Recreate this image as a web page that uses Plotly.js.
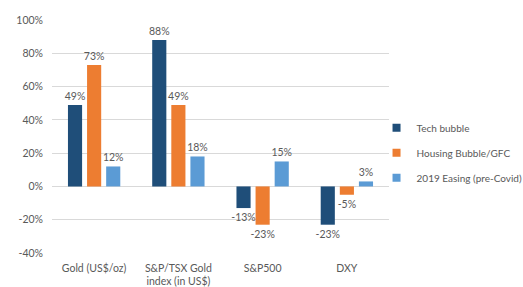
<!DOCTYPE html>
<html><head><meta charset="utf-8">
<script src="https://cdn.plot.ly/plotly-3.0.1.min.js"></script>
<style>html,body{margin:0;padding:0;background:#fff;}#chart{width:523px;height:287px;}</style>
</head><body><div id="chart"></div>
<script>
const categories = ["Gold (US$/oz)", "S&P/TSX Gold<br>index (in US$)", "S&P500", "DXY"];
const techBubble = [49, 88, -13, -23];
const housingBubble = [73, 49, -23, -5];
const easing2019 = [12, 18, 15, 3];
const seriesNames = ["Tech bubble", "Housing Bubble/GFC", "2019 Easing (pre-Covid)"];
const colors = ["#1F4E79", "#ED7D31", "#5B9BD5"];
const tickVals = [-40, -20, 0, 20, 40, 60, 80, 100];
const tickText = ["-40%", "-20%", "0%", "20%", "40%", "60%", "80%", "100%"];

const font = {family: "Lato, 'Open Sans', sans-serif", size: 10.5, color: "#595959"};
const legendFont = {family: "Lato, 'Open Sans', sans-serif", size: 10, color: "#595959"};
const series = [techBubble, housingBubble, easing2019];
const data = series.map((vals, i) => ({
  type: "bar", x: categories, y: vals, name: seriesNames[i],
  marker: {color: colors[i]}, showlegend: false,
  text: vals.map(v => v + "%"), textposition: "outside", cliponaxis: false,
  constraintext: "none", textangle: 0,
  textfont: font, hoverinfo: "none"
}));
// legend-only entries with small square symbols
series.forEach((vals, i) => data.push({
  type: "scatter", mode: "markers", x: [categories[0]], y: [null], name: seriesNames[i],
  marker: {color: colors[i], symbol: "square", size: 8}, legendgroup: "g" + i,
  hoverinfo: "none"
}));
const layout = {
  width: 523, height: 287,
  margin: {l: 52, r: 134, t: 20, b: 34, autoexpand: false},
  paper_bgcolor: "#fff", plot_bgcolor: "#fff",
  barmode: "group", bargap: 0.32, bargroupgap: 0.26,
  font: font,
  xaxis: {showgrid: false, showline: false, zeroline: false, ticks: "", tickangle: 0,
          tickfont: font, automargin: false, ticklabelstandoff: 7},
  yaxis: {range: [-40, 100], tickvals: tickVals, ticktext: tickText, showgrid: true,
          gridcolor: "#d9d9d9", gridwidth: 1, zeroline: false, showline: false,
          ticks: "", tickfont: font, ticklabelstandoff: 8, automargin: false},
  legend: {x: 0.963, y: 0.43, xanchor: "left", yanchor: "middle",
           font: legendFont, traceorder: "grouped", tracegroupgap: 6, itemwidth: 30, bgcolor: "rgba(0,0,0,0)"},
  showlegend: true
};
Plotly.newPlot("chart", data, layout, {staticPlot: true});
</script></body></html>
